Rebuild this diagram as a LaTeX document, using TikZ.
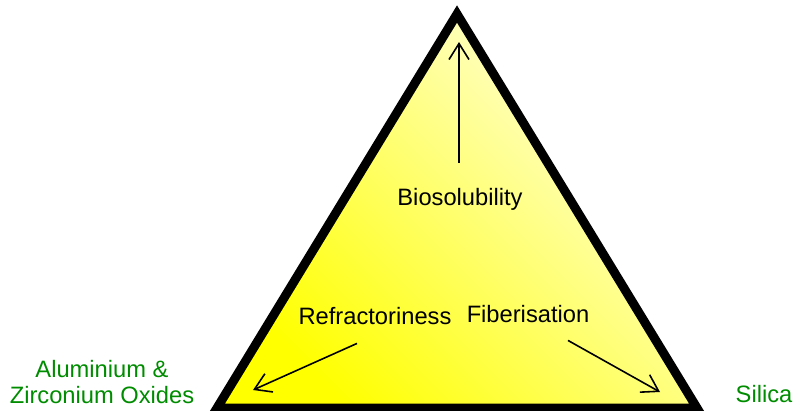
\documentclass[tikz,border=0pt]{standalone}
\usepackage{fontspec}
\setmainfont{Liberation Sans}
\usepackage{xcolor}
\usepackage{tikz}
\usetikzlibrary{arrows.meta}

\definecolor{oxgreen}{RGB}{0,140,0}

\begin{document}
\begin{tikzpicture}[x=1pt, y=-1pt]
        \tikzstyle{prop} = [font=\fontsize{23.7}{27}\selectfont, text=black, anchor=base, inner sep=3pt]
        \tikzstyle{oxide} = [font=\fontsize{23.7}{26}\selectfont, text=oxgreen, align=center, inner sep=0pt]
        \tikzstyle{arr} = [draw=black, line width=1.6pt, -{Straight Barb[length=16pt, width=20pt, line width=1.6pt]}]

        \useasboundingbox (0,0) rectangle (794,410);

        \coordinate (apex) at (457,14);
        \coordinate (bl) at (217,408);
        \coordinate (br) at (697,408);
        \shadedraw [line width=9pt, line join=miter, draw=black, bottom color=yellow, top color=yellow!12!white, shading angle=-45] (apex) -- (bl) -- (br) -- cycle;

        \node (bio) [prop] at (460,205) {Biosolubility};
        \node (refr) [prop] at (375,324) {Refractoriness};
        \node (fib) [prop] at (528,322) {Fiberisation};

        \node (alzr) [oxide, anchor=base] at (102,403) {Aluminium \&\\Zirconium Oxides};
        \node (silica) [oxide, anchor=base] at (764,402) {Silica};

        \coordinate (topend) at (459,42);
        \coordinate (leftend) at (253,390);
        \coordinate (rightend) at (660,392);

        \draw [arr] ([xshift=-1pt, yshift=22pt]bio.north) -- (topend);
        \draw [arr] ([xshift=-18pt, yshift=-16pt]refr.south) -- (leftend);
        \draw [arr] ([xshift=40pt, yshift=-15pt]fib.south) -- (rightend);
    \end{tikzpicture}
\end{document}
